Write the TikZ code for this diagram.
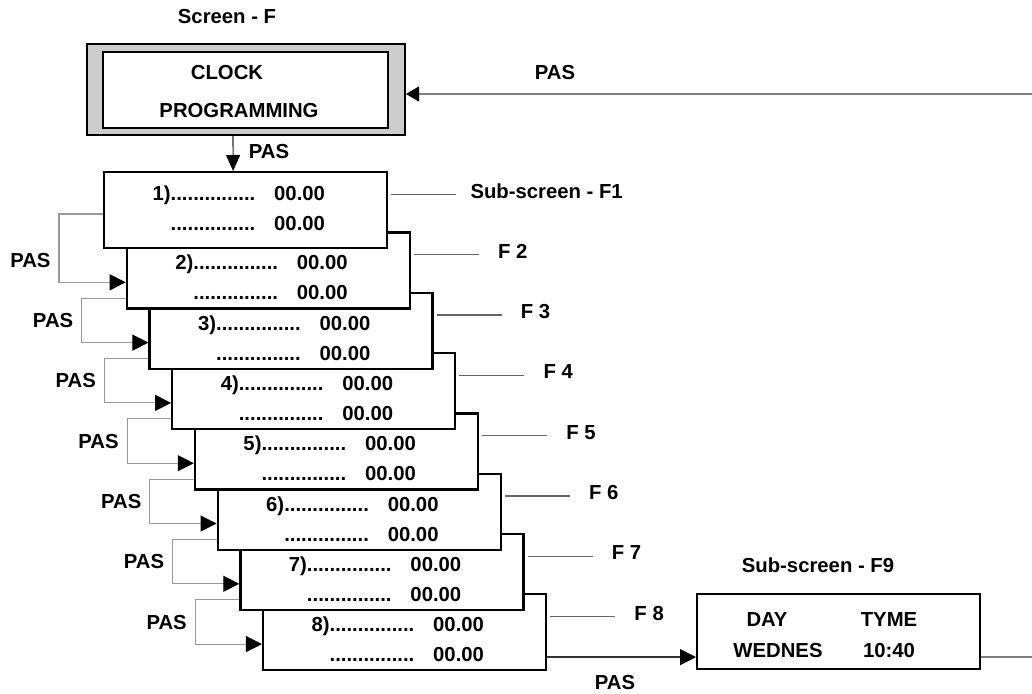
\documentclass[tikz,border=0pt]{standalone}
\usepackage{fontspec}
\setmainfont{Liberation Sans}
\usetikzlibrary{arrows.meta,calc}
\begin{document}
\begin{tikzpicture}[x=1pt,y=-1pt,
  every node/.style={font=\fontsize{20.3}{24}\selectfont\bfseries, inner sep=0pt},
  boxf/.style={draw=black, line width=2.3pt, fill=white, minimum width=283pt, minimum height=76pt, anchor=north west},
  fb/.style={draw=black!40, line width=1.1pt},
  lbl/.style={draw=black!60, line width=1.3pt},
  tip/.style={-{Triangle[length=16pt,width=16pt,color=black]}},
  tipb/.style={-{Triangle[length=13pt,width=15pt,color=black]}},
]
\useasboundingbox (0,0) rectangle (1032,693);

% main screen
\node[draw=black, line width=2pt, fill=black!20, minimum width=318pt, minimum height=91pt, anchor=north west] (scro) at (86,43) {};
\node[draw=black, line width=2.3pt, fill=white, minimum width=285pt, minimum height=76pt, anchor=north west] (scr) at (102,51) {};
\node (clock) at (227,73) {CLOCK};
\node (prog) at (239,111) {PROGRAMMING};
\node (scrlbl) at (227,17) {Screen - F};

% stacked sub-screens
\foreach \i in {8,7,...,1} {
  \pgfmathsetmacro\L{103+(\i-1)*22.71}
  \pgfmathsetmacro\T{171+(\i-1)*60.3}
  \pgfmathsetmacro\ya{\i==1 ? 29 : 38.5}
  \pgfmathsetmacro\yb{\i==1 ? 59.5 : 68.5}
  \node[boxf] (b\i) at (\L,\T) {};
  \node[anchor=base east] (da\i) at ($(b\i.north west)+(152.5,\ya)$) {\i)...............};
  \node[anchor=base west] (ta\i) at ($(b\i.north west)+(171,\ya)$) {00.00};
  \node[anchor=base east] (db\i) at ($(b\i.north west)+(152.5,\yb)$) {...............};
  \node[anchor=base west] (tb\i) at ($(b\i.north west)+(171,\yb)$) {00.00};
  \coordinate (le\i) at ($(b\i.north east)+(68,23.5)$);
  \draw[lbl] ($(b\i.north east)+(3,23.5)$) -- (le\i);
}
\node[anchor=west] (fl1) at ($(b1.north east)+(82,20)$) {Sub-screen - F1};
\foreach \i in {2,...,8} {
  \node[anchor=west] (fl\i) at ($(b\i.north east)+(87,20)$) {F \i};
}

% feedback PAS loops
\foreach \i in {1,...,7} {
  \pgfmathtruncatemacro\j{\i+1}
  \pgfmathsetmacro\s{\i==1 ? 43 : 67}
  \draw[fb, tip] ($(b\i.north west)+(0,\s)$) -- ++(-44,0) |- ($(b\j.north west)+(0,51)$);
  \node[anchor=east] (p\i) at ($(b\j.north west)+(-75,29)$) {PAS};
}

% screen -> F1
\draw[black!85, line width=1.1pt, -{Triangle[length=16pt,width=14pt,color=black]}] ($(scro.south)+(-13,0)$) -- ($(b1.north)+(-12.5,0)$);
\node (pas0) at (269,152) {PAS};

% return to screen
\coordinate (rt) at (1032,94);
\draw[black!50, line width=1.1pt, tipb] (rt) -- (scro.east |- rt);
\node (pastop) at (555,73) {PAS};

% F9
\node[boxf, minimum height=75pt] (f9) at (696,593) {};
\node (f9lbl) at (818,565) {Sub-screen - F9};
\node (day) at (767,620) {DAY};
\node (tyme) at (889,620) {TYME};
\node (wed) at (778,651) {WEDNES};
\node (tim) at (889,651) {10:40};
\coordinate (a8) at ($(b8.north east)+(0,64)$);
\draw[black!80, line width=1.3pt, tip] (a8) -- (a8 -| f9.west);
\node (pas9) at (615,683) {PAS};
\coordinate (rb) at (1032,657);
\draw[black!50, line width=1.1pt] (rb -| f9.east) -- (rb);
\end{tikzpicture}
\end{document}
